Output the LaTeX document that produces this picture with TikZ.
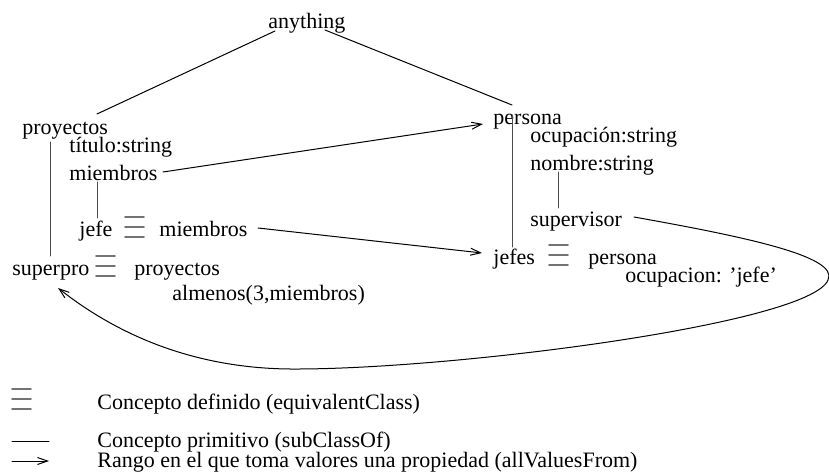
\documentclass[tikz,border=0pt]{standalone}
\usepackage{fontspec}
\setmainfont{Liberation Serif}
\usepackage{tikz}
\usetikzlibrary{arrows.meta}

\begin{document}
\begin{tikzpicture}[x=0.5pt,y=-0.5pt,>={Straight Barb[length=5pt,width=3.5pt]},
  font=\fontsize{11}{13}\selectfont,line cap=round,
  lbl/.style={inner sep=0pt,anchor=base west},
  sub/.style={black!70,line width=0.5pt},
  rel/.style={black,line width=0.5pt},
  eqsign/.pic={\foreach \k in {0,1,2} \draw[black!55,line width=0.8pt] (0,-10*\k) -- (19,-10*\k);}]
\useasboundingbox (0,0) rectangle (829,475);
% clases
\node[lbl] (anything) at (268,29) {anything};
\node[lbl] (proy) at (22,135) {proyectos};
\node[lbl] (titulo) at (69,153) {título:string};
\node[lbl] (miemb) at (69,181) {miembros};
\node[lbl] (jefe) at (79,237) {jefe};
\pic at (125,237) {eqsign};
\node[lbl] (jefemiemb) at (159,237) {miembros};
\node[lbl] (superpro) at (12,276) {superpro};
\pic at (96,276) {eqsign};
\node[lbl] (superproy) at (134,276) {proyectos};
\node[lbl] (almenos) at (172,301) {almenos(3,miembros)};
\node[lbl] (persona) at (493,125) {persona};
\node[lbl] (ocup) at (530,143) {ocupación:string};
\node[lbl] (nombre) at (530,171) {nombre:string};
\node[lbl] (superv) at (530,227) {supervisor};
\node[lbl] (jefes) at (493,265) {jefes};
\pic at (549,265) {eqsign};
\node[lbl] (jefespers) at (588,265) {persona};
\node[lbl] (ocupjefe) at (625,283) {ocupacion: 'jefe'};
% jerarquia
\draw[rel] ([shift={(75,-21)}]proy.base west) -- ([shift={(7,2)}]anything.base west);
\draw[rel] ([shift={(57,1)}]anything.base west) -- ([shift={(19,-20)}]persona.base west);
\draw[sub] ([shift={(28,7)}]proy.base west) -- ([shift={(38,-20)}]superpro.base west);
\draw[sub] ([shift={(28,1)}]miemb.base west) -- ([shift={(18,-19)}]jefe.base west);
\draw[sub] ([shift={(19,-10)}]persona.base west) -- ([shift={(19,-18)}]jefes.base west);
\draw[sub] ([shift={(28,1)}]nombre.base west) -- ([shift={(28,-19)}]superv.base west);
% rangos
\draw[rel,->] ([shift={(94,-9)}]miemb.base west) -- ([shift={(-10,-1)}]persona.base west);
\draw[rel,->] ([shift={(99,-9)}]jefemiemb.base west) -- ([shift={(-11,-12)}]jefes.base west);
\draw[rel,->] ([shift={(104,-10)}]superv.base west) .. controls (740,236) and (840,256) .. (828,280)
  .. controls (810,324) and (450,370) .. (290,369) .. controls (180,368) and (105,325) .. ([shift={(46,12)}]superpro.base west);
% leyenda
\pic at (12,409) {eqsign};
\node[lbl] (ldef) at (97,409) {Concepto definido (equivalentClass)};
\coordinate (lsa) at (12,441);
\coordinate (lsb) at (49,441);
\draw[rel] (lsa) -- (lsb);
\node[lbl] (lprim) at (97,447) {Concepto primitivo (subClassOf)};
\coordinate (laa) at (12,461);
\coordinate (lab) at (49,461);
\draw[rel,->] (laa) -- (lab);
\node[lbl] (lrango) at (97,467) {Rango en el que toma valores una propiedad (allValuesFrom)};
\end{tikzpicture}
\end{document}
